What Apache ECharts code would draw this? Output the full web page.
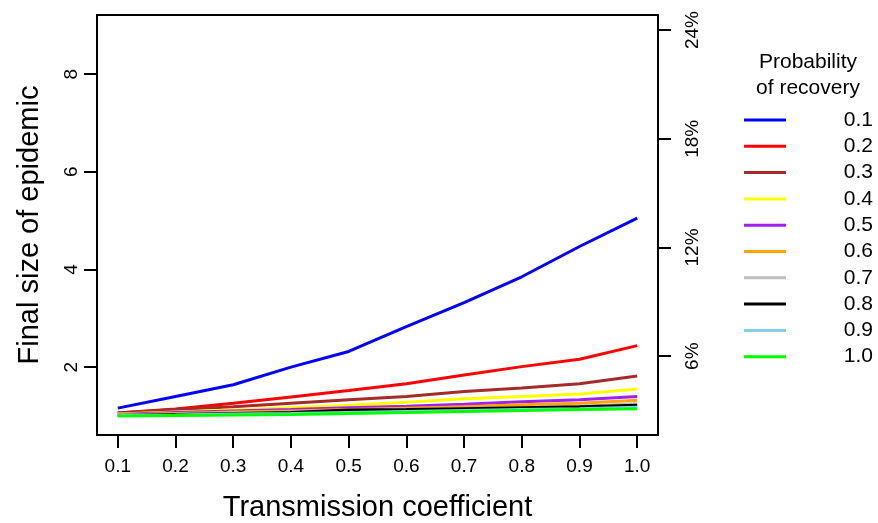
<!DOCTYPE html>
<html>
<head>
<meta charset="utf-8">
<script src="https://cdn.jsdelivr.net/npm/echarts@6/dist/echarts.min.js"></script>
<style>html,body{margin:0;padding:0;background:#fff}#c{width:878px;height:523px}</style>
</head>
<body>
<div id="c"></div>
<script>
const transmission = [0.1,0.2,0.3,0.4,0.5,0.6,0.7,0.8,0.9,1.0];
const recoveryLabels = ['0.1','0.2','0.3','0.4','0.5','0.6','0.7','0.8','0.9','1.0'];
const colors = ['#0000FF','#FF0000','#A52A2A','#FFFF00','#A020F0','#FFA500','#BEBEBE','#000000','#87CEEB','#00FF00'];
const s01 = [1.16,1.40,1.64,2.00,2.32,2.83,3.32,3.85,4.47,5.05];
const s02 = [1.06,1.14,1.26,1.39,1.52,1.66,1.84,2.01,2.16,2.44];
const s03 = [1.06,1.13,1.19,1.26,1.33,1.40,1.50,1.57,1.66,1.82];
const s04 = [1.04,1.08,1.12,1.17,1.22,1.28,1.35,1.40,1.45,1.55];
const s05 = [1.03,1.07,1.10,1.13,1.17,1.20,1.24,1.29,1.33,1.40];
const s06 = [1.02,1.05,1.08,1.10,1.13,1.16,1.19,1.23,1.26,1.32];
const s07 = [1.02,1.04,1.06,1.08,1.10,1.13,1.15,1.17,1.20,1.25];
const s08 = [1.01,1.03,1.05,1.07,1.12,1.13,1.15,1.17,1.19,1.22];
const s09 = [1.01,1.02,1.04,1.05,1.07,1.09,1.11,1.13,1.15,1.18];
const s10 = [1.00,1.01,1.02,1.03,1.05,1.07,1.09,1.11,1.13,1.15];
const allSeries = [s01,s02,s03,s04,s05,s06,s07,s08,s09,s10];
const xTicks = [0.1,0.2,0.3,0.4,0.5,0.6,0.7,0.8,0.9,1.0];
const yTicks = [2,4,6,8];
const rightTicks = [6,12,18,24];

const FONT = 'Liberation Sans, Arial, sans-serif';
const chart = echarts.init(document.getElementById('c'), null, {renderer:'canvas'});
chart.setOption({
  animation: false,
  title: {
    text: 'Probability\nof recovery', left: 803, top: 44, textAlign: 'center',
    textStyle: {fontFamily: FONT, fontSize: 21, fontWeight: 'normal', color: '#000', lineHeight: 26}
  },
  legend: {
    orient: 'vertical', left: 744, top: 109.5, padding: 0,
    itemWidth: 42, itemHeight: 3, itemGap: 5.3, icon: 'rect',
    data: recoveryLabels,
    formatter: n => '{a|' + n + '}',
    textStyle: {fontFamily: FONT, fontSize: 21, color: '#000', lineHeight: 21,
      rich: {a: {width: 82, align: 'right', fontFamily: FONT, fontSize: 21, color: '#000', lineHeight: 21}}}
  },
  grid: {left: 97, right: 220, top: 15, bottom: 88, show: true, borderColor: '#000', borderWidth: 2,
    containLabel: false, outerBoundsMode: 'none'},
  xAxis: {
    type: 'value', min: 0.064, max: 1.036,
    name: 'Transmission coefficient', nameLocation: 'middle', nameGap: 58,
    nameTextStyle: {fontFamily: FONT, fontSize: 29, color: '#000'},
    axisLine: {show: true, lineStyle: {color: '#000', width: 2}},
    axisTick: {show: true, length: 13, lineStyle: {color: '#000', width: 2}, customValues: xTicks},
    axisLabel: {customValues: xTicks, formatter: v => v.toFixed(1), fontFamily: FONT, fontSize: 19, color: '#000', margin: 22},
    splitLine: {show: false}
  },
  yAxis: [{
    type: 'value', min: 0.61, max: 9.21, position: 'left',
    name: 'Final size of epidemic', nameLocation: 'middle', nameGap: 53,
    nameTextStyle: {fontFamily: FONT, fontSize: 29, color: '#000'},
    axisLine: {show: true, lineStyle: {color: '#000', width: 2}},
    axisTick: {show: true, length: 13, lineStyle: {color: '#000', width: 2}, customValues: yTicks},
    axisLabel: {customValues: yTicks, rotate: 90, fontFamily: FONT, fontSize: 19, color: '#000', margin: 16},
    splitLine: {show: false}
  }, {
    type: 'value', min: 1.65, max: 24.83, position: 'right',
    axisLine: {show: true, lineStyle: {color: '#000', width: 2}},
    axisTick: {show: true, length: 13, lineStyle: {color: '#000', width: 2}, customValues: rightTicks},
    axisLabel: {customValues: rightTicks, rotate: 90, formatter: v => v + '%', fontFamily: FONT, fontSize: 19, color: '#000', margin: 25},
    splitLine: {show: false}
  }],
  series: allSeries.map((d, i) => ({
    name: recoveryLabels[i], type: 'line', yAxisIndex: 0,
    data: d.map((v, j) => [transmission[j], v]),
    showSymbol: false, symbol: 'none',
    lineStyle: {color: colors[i], width: 3},
    itemStyle: {color: colors[i]},
    z: 2 + i
  }))
});
</script>
</body>
</html>
